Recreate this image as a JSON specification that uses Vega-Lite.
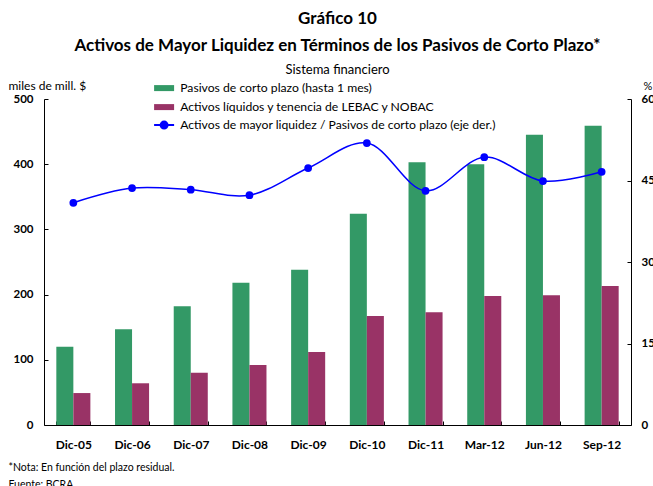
{
  "$schema": "https://vega.github.io/schema/vega-lite/v6.json",
  "width": 587,
  "height": 326,
  "autosize": "none",
  "padding": {"left": 44, "top": 99, "right": 22, "bottom": 61},
  "background": "white",
  "config": {
    "font": "Lato",
    "view": {"stroke": null},
    "axis": {"grid": false, "domainColor": "black", "tickColor": "black", "labelColor": "black", "titleColor": "black"}
  },
  "title": {
    "text": ["Gráfico 10", "Activos de Mayor Liquidez en Términos de los Pasivos de Corto Plazo*"],
    "subtitle": "Sistema financiero",
    "fontSize": 17,
    "fontWeight": "bold",
    "lineHeight": 27,
    "subtitleFontSize": 13,
    "subtitleFontWeight": "normal",
    "subtitleColor": "black",
    "subtitlePadding": 9,
    "color": "black",
    "anchor": "middle",
    "frame": "group",
    "offset": 1
  },
  "datasets": {
    "barras": [
      {"fecha": "Dic-05", "serie": "Pasivos de corto plazo (hasta 1 mes)", "valor": 120},
      {"fecha": "Dic-06", "serie": "Pasivos de corto plazo (hasta 1 mes)", "valor": 147},
      {"fecha": "Dic-07", "serie": "Pasivos de corto plazo (hasta 1 mes)", "valor": 182},
      {"fecha": "Dic-08", "serie": "Pasivos de corto plazo (hasta 1 mes)", "valor": 218},
      {"fecha": "Dic-09", "serie": "Pasivos de corto plazo (hasta 1 mes)", "valor": 238},
      {"fecha": "Dic-10", "serie": "Pasivos de corto plazo (hasta 1 mes)", "valor": 324},
      {"fecha": "Dic-11", "serie": "Pasivos de corto plazo (hasta 1 mes)", "valor": 403},
      {"fecha": "Mar-12", "serie": "Pasivos de corto plazo (hasta 1 mes)", "valor": 400},
      {"fecha": "Jun-12", "serie": "Pasivos de corto plazo (hasta 1 mes)", "valor": 445},
      {"fecha": "Sep-12", "serie": "Pasivos de corto plazo (hasta 1 mes)", "valor": 459},
      {"fecha": "Dic-05", "serie": "Activos líquidos y tenencia de LEBAC y NOBAC", "valor": 49},
      {"fecha": "Dic-06", "serie": "Activos líquidos y tenencia de LEBAC y NOBAC", "valor": 64},
      {"fecha": "Dic-07", "serie": "Activos líquidos y tenencia de LEBAC y NOBAC", "valor": 80},
      {"fecha": "Dic-08", "serie": "Activos líquidos y tenencia de LEBAC y NOBAC", "valor": 92},
      {"fecha": "Dic-09", "serie": "Activos líquidos y tenencia de LEBAC y NOBAC", "valor": 112},
      {"fecha": "Dic-10", "serie": "Activos líquidos y tenencia de LEBAC y NOBAC", "valor": 167},
      {"fecha": "Dic-11", "serie": "Activos líquidos y tenencia de LEBAC y NOBAC", "valor": 173},
      {"fecha": "Mar-12", "serie": "Activos líquidos y tenencia de LEBAC y NOBAC", "valor": 198},
      {"fecha": "Jun-12", "serie": "Activos líquidos y tenencia de LEBAC y NOBAC", "valor": 199},
      {"fecha": "Sep-12", "serie": "Activos líquidos y tenencia de LEBAC y NOBAC", "valor": 213}
    ],
    "ratio": [
      {"fecha": "Dic-05", "serie": "Activos de mayor liquidez / Pasivos de corto plazo (eje der.)", "ratio": 40.9},
      {"fecha": "Dic-06", "serie": "Activos de mayor liquidez / Pasivos de corto plazo (eje der.)", "ratio": 43.6},
      {"fecha": "Dic-07", "serie": "Activos de mayor liquidez / Pasivos de corto plazo (eje der.)", "ratio": 43.3},
      {"fecha": "Dic-08", "serie": "Activos de mayor liquidez / Pasivos de corto plazo (eje der.)", "ratio": 42.3},
      {"fecha": "Dic-09", "serie": "Activos de mayor liquidez / Pasivos de corto plazo (eje der.)", "ratio": 47.3},
      {"fecha": "Dic-10", "serie": "Activos de mayor liquidez / Pasivos de corto plazo (eje der.)", "ratio": 51.9},
      {"fecha": "Dic-11", "serie": "Activos de mayor liquidez / Pasivos de corto plazo (eje der.)", "ratio": 43.1},
      {"fecha": "Mar-12", "serie": "Activos de mayor liquidez / Pasivos de corto plazo (eje der.)", "ratio": 49.3},
      {"fecha": "Jun-12", "serie": "Activos de mayor liquidez / Pasivos de corto plazo (eje der.)", "ratio": 44.9},
      {"fecha": "Sep-12", "serie": "Activos de mayor liquidez / Pasivos de corto plazo (eje der.)", "ratio": 46.6}
    ]
  },
  "layer": [
    {
      "data": {"name": "barras"},
      "mark": {"type": "bar"},
      "encoding": {
        "x": {
          "field": "fecha", "type": "nominal", "sort": null,
          "scale": {"paddingInner": 0.42, "paddingOuter": 0.21},
          "axis": {
            "labelAngle": 0, "labelFontSize": 12, "labelFontWeight": "bold",
            "tickBand": "extent", "tickSize": -4, "labelPadding": 18,
            "title": ["*Nota: En función del plazo residual.", "Fuente: BCRA"],
            "titleFontSize": 10.5, "titleFontWeight": "normal", "titleAlign": "left",
            "titleAnchor": "start", "titleX": -36, "titleY": 45, "titleLineHeight": 17, "titleBaseline": "alphabetic"
          }
        },
        "xOffset": {
          "field": "serie", "type": "nominal",
          "sort": ["Pasivos de corto plazo (hasta 1 mes)", "Activos líquidos y tenencia de LEBAC y NOBAC"],
          "scale": {"paddingInner": 0, "paddingOuter": 0}
        },
        "y": {
          "field": "valor", "type": "quantitative",
          "scale": {"domain": [0, 500]},
          "axis": {
            "values": [0, 100, 200, 300, 400, 500], "tickSize": -4, "labelPadding": 15,
            "labelFontSize": 11.5, "labelFontWeight": "bold",
            "title": "miles de mill. $", "titleAngle": 0, "titleAlign": "left", "titleAnchor": "start",
            "titleX": -36, "titleY": -10, "titleFontSize": 12, "titleFontWeight": "normal", "titleBaseline": "alphabetic"
          }
        },
        "color": {
          "field": "serie", "type": "nominal",
          "scale": {
            "domain": ["Pasivos de corto plazo (hasta 1 mes)", "Activos líquidos y tenencia de LEBAC y NOBAC"],
            "range": ["#339966", "#993366"]
          },
          "legend": {
            "title": null, "orient": "none", "legendX": 114, "legendY": -17, "padding": 0,
            "symbolType": "M-2,-0.6H2V0.6H-2Z", "symbolSize": 100, "symbolStrokeWidth": 0,
            "labelFontSize": 12.2, "labelOffset": 10, "rowPadding": 6, "labelLimit": 500, "labelColor": "black"
          }
        }
      }
    },
    {
      "data": {"name": "ratio"},
      "mark": {"type": "line", "interpolate": "catmull-rom", "strokeWidth": 1.5, "point": {"filled": true, "size": 60, "color": "#0000ff"}},
      "encoding": {
        "x": {"field": "fecha", "type": "nominal", "sort": null},
        "y": {
          "field": "ratio", "type": "quantitative",
          "scale": {"domain": [0, 60]},
          "axis": {
            "orient": "right", "values": [0, 15, 30, 45, 60], "tickSize": -4, "labelPadding": 14,
            "labelFontSize": 11.5, "labelFontWeight": "bold",
            "title": "%", "titleAngle": 0, "titleAlign": "left", "titleAnchor": "start",
            "titleX": 12, "titleY": -10, "titleFontSize": 11, "titleFontWeight": "normal", "titleBaseline": "alphabetic"
          }
        },
        "color": {
          "field": "serie", "type": "nominal",
          "scale": {"range": ["#0000ff"]},
          "legend": {
            "title": null, "orient": "none", "legendX": 114, "legendY": 20, "padding": 0,
            "symbolType": "M-2,0H2M-0.7,0A0.7,0.7 0 1,1 0.7,0A0.7,0.7 0 1,1 -0.7,0",
            "symbolSize": 100, "symbolStrokeWidth": 2, "symbolFillColor": "#0000ff", "symbolStrokeColor": "#0000ff",
            "labelFontSize": 12.2, "labelOffset": 10, "labelLimit": 500, "labelColor": "black"
          }
        }
      }
    }
  ],
  "resolve": {"scale": {"y": "independent", "color": "independent"}}
}
